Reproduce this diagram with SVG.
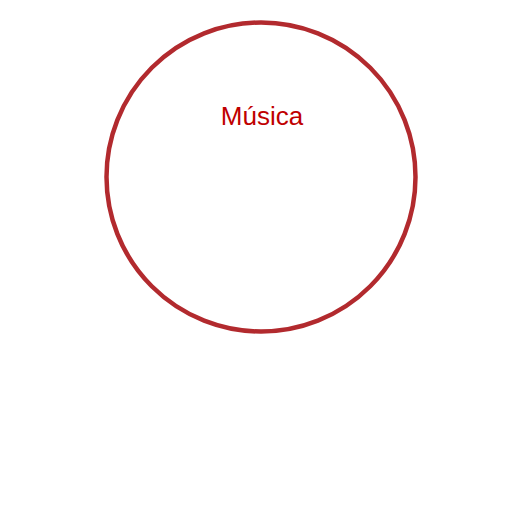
<svg xmlns="http://www.w3.org/2000/svg" width="523" height="523" viewBox="0 0 523 523">
<style>
.ring{fill:none;stroke:#b22a2e;stroke-width:4.5}
.lbl{font-family:"Liberation Sans","DejaVu Sans",sans-serif;font-size:26px;fill:#c00000;text-anchor:middle}
</style>
<rect width="523" height="523" fill="#ffffff"/>
<g id="node-musica">
<circle class="ring" cx="261" cy="177" r="154.5"/>
<text class="lbl" x="262" y="125">Música</text>
</g>
<g id="connectors"></g>
</svg>
